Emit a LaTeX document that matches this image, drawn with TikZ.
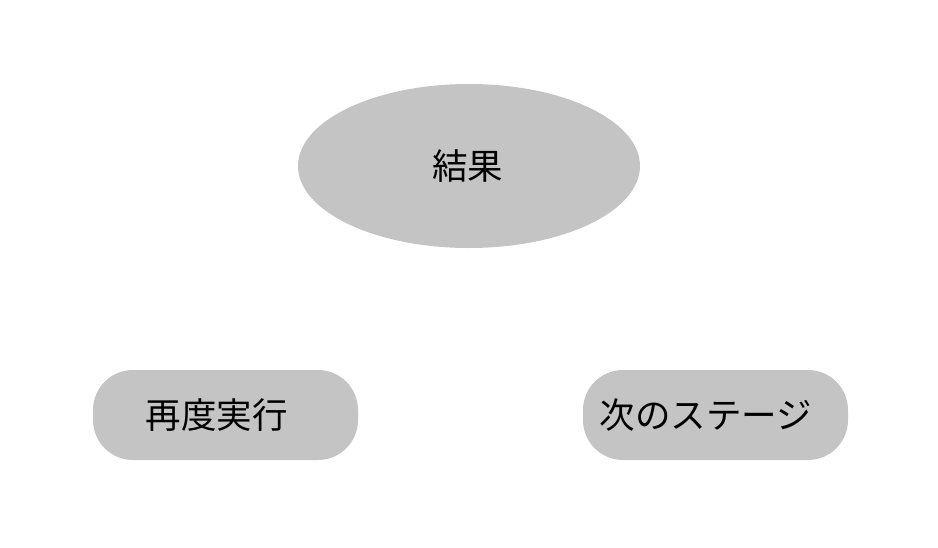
\documentclass[tikz,border=0pt]{standalone}
\usepackage{fontspec}
\setmainfont{Noto Sans CJK JP}
\usetikzlibrary{shapes.geometric}
\definecolor{boxgray}{HTML}{C4C4C4}

\begin{document}
\begin{tikzpicture}[x=1pt,y=-1pt,
    result/.style={shape=ellipse,fill=boxgray,minimum width=342pt,minimum height=164pt,inner sep=0pt,font=\fontsize{35.5}{42}\selectfont},
    choice/.style={shape=rectangle,rounded corners=40pt,fill=boxgray,minimum width=265pt,minimum height=90pt,inner sep=0pt,font=\fontsize{35.5}{42}\selectfont}]
        \useasboundingbox (0,0) rectangle (938,547);
        \node[result] (kekka) at (469,166) {\hspace*{-3pt}結果};
        \node[choice] (saido) at (225.5,415) {\hspace*{-18pt}再度実行};
        \node[choice] (tsugi) at (715.5,415) {\hspace*{-19pt}次のステージ};
      \end{tikzpicture}
\end{document}
